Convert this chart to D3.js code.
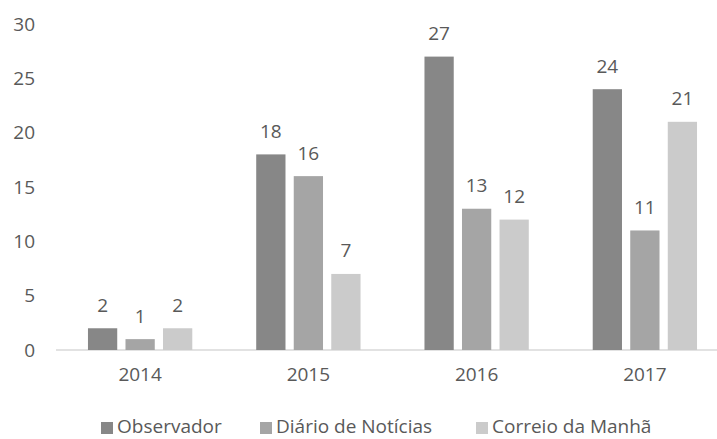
<!DOCTYPE html>
<html>
<head>
<meta charset="utf-8">
<script src="https://cdn.jsdelivr.net/npm/d3@7"></script>
<style>
  body { margin: 0; background: #fff; }
  text { font-family: "Open Sans", sans-serif; fill: #595959; }
</style>
</head>
<body>
<script>
// chart data
var years = ["2014", "2015", "2016", "2017"];
var seriesNames = ["Observador", "Diário de Notícias", "Correio da Manhã"];
var observador = [2, 18, 27, 24];
var diario = [1, 16, 13, 11];
var correio = [2, 7, 12, 21];
var yTicks = [0, 5, 10, 15, 20, 25, 30];

var colors = ["#878787", "#a5a5a5", "#cbcbcb"];
var allSeries = [observador, diario, correio];

var svgWidth = 717;
var svgHeight = 439;
var fontSize = 19;

var svg = d3.select("body")
  .append("svg")
  .attr("width", svgWidth)
  .attr("height", svgHeight);

var xScale = d3.scaleBand()
  .domain(years)
  .range([56, 729]);

var xInner = d3.scaleBand()
  .domain(d3.range(seriesNames.length))
  .range([0, xScale.bandwidth() * 0.62])
  .paddingInner(0.22);

var yScale = d3.scaleLinear()
  .domain([0, 30])
  .range([350, 24]);

// y axis labels
var leftAxis = d3.axisLeft(yScale).tickValues(yTicks).tickSize(0).tickPadding(0);
var yAxis = svg.append("g")
  .attr("transform", "translate(35,0)")
  .call(leftAxis);
yAxis.select(".domain").remove();
yAxis.selectAll("text")
  .attr("font-size", fontSize)
  .attr("fill", "#595959")
  .style("font-family", "'Open Sans', sans-serif");

// baseline
svg.append("line")
  .attr("x1", 56)
  .attr("x2", 729)
  .attr("y1", yScale(0))
  .attr("y2", yScale(0))
  .attr("stroke", "#d9d9d9")
  .attr("stroke-width", 1.5);

// x axis labels
var bottomAxis = d3.axisBottom(xScale).tickSize(0).tickPadding(0);
var xAxis = svg.append("g")
  .attr("transform", "translate(0,367)")
  .call(bottomAxis);
xAxis.select(".domain").remove();
xAxis.selectAll("text")
  .attr("font-size", fontSize)
  .attr("fill", "#595959")
  .style("font-family", "'Open Sans', sans-serif");

// bars
var groupOffset = (xScale.bandwidth() - xInner.range()[1]) / 2;

allSeries.forEach(function(values, s) {
  var g = svg.append("g");

  g.selectAll("rect")
    .data(values)
    .enter()
    .append("rect")
    .attr("x", (d, i) => xScale(years[i]) + groupOffset + xInner(s))
    .attr("y", d => yScale(d))
    .attr("width", xInner.bandwidth())
    .attr("height", d => yScale(0) - yScale(d))
    .attr("fill", colors[s]);

  g.selectAll("text")
    .data(values)
    .enter()
    .append("text")
    .attr("x", (d, i) => xScale(years[i]) + groupOffset + xInner(s) + xInner.bandwidth() / 2)
    .attr("y", d => yScale(d) - 16.5)
    .attr("text-anchor", "middle")
    .attr("font-size", fontSize)
    .attr("fill", "#404040")
    .text(d => d);
});

// legend
var legendX = [101, 260, 476];
var legend = svg.append("g");
seriesNames.forEach(function(name, s) {
  legend.append("rect")
    .attr("x", legendX[s])
    .attr("y", 422)
    .attr("width", 12)
    .attr("height", 12)
    .attr("fill", colors[s]);
  legend.append("text")
    .attr("x", legendX[s] + 16)
    .attr("y", 433)
    .attr("font-size", fontSize)
    .text(name);
});
</script>
</body>
</html>
